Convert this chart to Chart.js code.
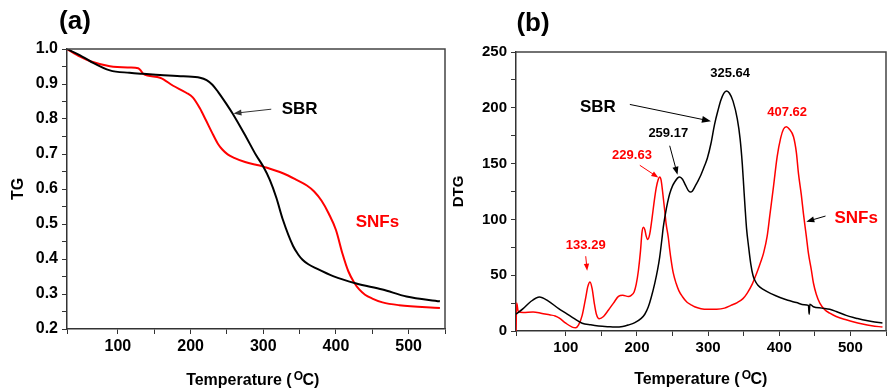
<!DOCTYPE html>
<html><head><meta charset="utf-8">
<script src="https://cdn.jsdelivr.net/npm/chart.js@4.4.1/dist/chart.umd.min.js"></script>
<style>
html,body{margin:0;padding:0;background:#fff;overflow:hidden}
#wrap{position:relative;width:889px;height:388px;background:#fff}
canvas{position:absolute;top:0}
</style></head><body>
<div id="wrap">
<canvas id="ca" width="450" height="388" style="left:0;width:450px;height:388px"></canvas>
<canvas id="cb" width="439" height="388" style="left:450px;width:439px;height:388px"></canvas>
</div>
<script>
// ---------- data (a) TG ----------
const sbrTgT = [30, 48, 62, 89, 116, 135, 158, 190, 213, 222, 230, 238, 249, 258, 276, 290, 300, 309, 318, 327, 341, 348, 354, 362, 373, 396, 428, 464, 497, 543];
const sbrTg  = [1.0, 0.982, 0.965, 0.939, 0.932, 0.929, 0.926, 0.922, 0.918, 0.911, 0.898, 0.877, 0.844, 0.815, 0.75, 0.697, 0.664, 0.626, 0.575, 0.512, 0.437, 0.413, 0.398, 0.385, 0.373, 0.351, 0.33, 0.313, 0.293, 0.279];
const snfTgT = [30, 48, 62, 89, 116, 128, 132, 135, 158, 176, 194, 203, 213, 221, 231, 238, 244, 251, 260, 275, 295, 300, 327, 345, 360, 370, 380, 390, 400, 409, 417, 425, 432, 440, 450, 464, 487, 543];
const snfTg  = [1.0, 0.978, 0.965, 0.951, 0.947, 0.945, 0.937, 0.929, 0.918, 0.895, 0.875, 0.862, 0.83, 0.797, 0.755, 0.728, 0.712, 0.699, 0.689, 0.677, 0.667, 0.664, 0.645, 0.627, 0.61, 0.593, 0.567, 0.53, 0.483, 0.415, 0.365, 0.333, 0.313, 0.298, 0.287, 0.276, 0.268, 0.26];

// ---------- data (b) DTG ----------
const sbrDtgT = [30, 40, 50, 63, 75, 90, 100, 112, 123, 135, 146, 160, 169, 180, 188, 197, 206, 211, 216, 220, 225, 229, 232, 235, 237, 240, 243, 246, 250, 253, 257, 260, 264, 268, 272, 275, 278, 282, 285, 290, 295, 299, 304, 309, 314, 318, 322, 326, 330, 335, 341, 345, 348, 350, 352, 354, 357, 360, 363, 366, 370, 378, 390, 401, 412, 424, 435, 441, 442, 443, 448, 460, 471, 480, 494, 508, 517, 530, 545];
const sbrDtg  = [15, 20, 26, 30.5, 27, 20, 16, 11, 7, 5.5, 4.5, 3.8, 3.5, 4, 5.4, 7.5, 11.3, 15, 21.7, 30, 42.7, 55, 66.5, 82, 93, 105, 115, 123, 130, 133.5, 137, 138, 136, 131, 126, 124.5, 125.5, 130, 133.5, 140, 148, 155, 168, 185, 198, 207, 213, 215, 213, 206, 190, 172, 150, 130, 110, 92, 75, 60, 50, 45, 41, 37, 33, 30, 27.5, 25.5, 23.5, 23, 15, 24, 21.7, 20.5, 19.4, 17.5, 14, 11.5, 10, 8.5, 7.2];
const snfDtgT = [30, 31, 33, 40, 54, 65, 77, 85, 91, 100, 109, 114, 118, 123, 128, 131, 134, 137, 140, 143, 147, 153, 160, 167, 174, 180, 188, 192, 196, 199, 202, 205, 207, 209, 211, 213, 215, 218, 221, 224, 227, 230, 232, 234, 236, 239, 241, 244, 246, 248, 251, 255, 259, 264, 270, 276, 281, 290, 299, 312, 323, 332, 341, 349, 355, 362, 369, 374, 378, 383, 387, 392, 397, 402, 406, 410, 414, 420, 424, 427, 431, 434, 438, 441, 445, 448, 452, 457, 464, 471, 480, 494, 505, 517, 530, 545];
const snfDtg  = [0, 25, 18, 16.5, 17, 16, 14.5, 13.5, 11.5, 7, 3.5, 3, 5.5, 14, 30, 40, 44, 38, 25, 15, 11, 13, 18.8, 25, 31, 32, 31, 32, 35, 42, 54, 72, 88, 93, 91, 85, 82, 87, 100, 115, 128, 136, 138, 135, 125, 108, 96, 84, 73, 63.5, 52, 42.7, 36, 30.7, 26, 23.5, 21.7, 20, 19.4, 19.5, 20.5, 23, 25.5, 29, 34, 42, 53, 62, 70, 85, 105, 130, 156, 173, 181, 183, 181, 174, 160, 141, 122, 105, 85, 69.5, 55, 43, 33, 25, 19, 16, 13, 10, 8, 6.3, 4.8, 3.5];

// ---------- ticks ----------
const xTickLabels = [100, 200, 300, 400, 500];
const yTickLabelsA = [0.2, 0.3, 0.4, 0.5, 0.6, 0.7, 0.8, 0.9, 1.0];
const yTickLabelsB = [0, 50, 100, 150, 200, 250];

const FONT = '"Liberation Sans", Arial, Helvetica, sans-serif';
Chart.defaults.font.family = FONT;
Chart.defaults.color = '#000';
const RED = '#ff0000';

function pts(xs, ys){ return xs.map((x,i)=>({x:x, y:ys[i]})); }

function drawArrow(ctx, x1, y1, x2, y2, color, head){
  head = head || 8;
  const ang = Math.atan2(y2-y1, x2-x1);
  ctx.strokeStyle = color; ctx.fillStyle = color; ctx.lineWidth = 1;
  ctx.beginPath(); ctx.moveTo(x1,y1);
  ctx.lineTo(x2 - Math.cos(ang)*head*0.8, y2 - Math.sin(ang)*head*0.8); ctx.stroke();
  ctx.beginPath();
  ctx.moveTo(x2, y2);
  ctx.lineTo(x2 - head*Math.cos(ang) + head*0.38*Math.sin(ang), y2 - head*Math.sin(ang) - head*0.38*Math.cos(ang));
  ctx.lineTo(x2 - head*Math.cos(ang) - head*0.38*Math.sin(ang), y2 - head*Math.sin(ang) + head*0.38*Math.cos(ang));
  ctx.closePath(); ctx.fill();
}

function drawTempTitle(ctx, cx, baseY){
  const f1 = 'bold 16px ' + FONT, f2 = 'bold 12px ' + FONT;
  const t1 = 'Temperature (', t2 = 'O', t3 = 'C)';
  ctx.font = f1; const w1 = ctx.measureText(t1).width, w3 = ctx.measureText(t3).width;
  ctx.font = f2; const w2 = ctx.measureText(t2).width;
  const total = w1 + w2 + w3 + 2;
  let x = cx - total/2;
  ctx.fillStyle = '#000'; ctx.textAlign = 'left'; ctx.textBaseline = 'alphabetic';
  ctx.font = f1; ctx.fillText(t1, x, baseY); x += w1 + 2;
  ctx.font = f2; ctx.fillText(t2, x, baseY - 5); x += w2 - 0.5;
  ctx.font = f1; ctx.fillText(t3, x, baseY);
}

const deco = {
  id: 'deco',
  afterDraw(chart, args, o){
    const ctx = chart.ctx, a = chart.chartArea, xs = chart.scales.x, ys = chart.scales.y;
    ctx.save();
    ctx.strokeStyle = '#444'; ctx.lineWidth = 1.5;
    ctx.beginPath(); ctx.moveTo(a.left, a.top); ctx.lineTo(a.right, a.top); ctx.lineTo(a.right, a.bottom); ctx.stroke();
    ctx.fillStyle = '#000'; ctx.textAlign = 'center'; ctx.textBaseline = 'middle';
    ctx.font = 'bold 26px ' + FONT; ctx.fillText(o.panel, o.panelX, o.panelY);
    ctx.save(); ctx.translate(o.yTitleX, (a.top + a.bottom)/2); ctx.rotate(-Math.PI/2);
    ctx.font = o.yTitleFont; ctx.fillText(o.yTitle, 0, 0); ctx.restore();
    drawTempTitle(ctx, (a.left + a.right)/2 + (o.xTitleDx || 0), o.xTitleY);
    o.arrows.forEach(ar => drawArrow(ctx, xs.getPixelForValue(ar.from[0]), ys.getPixelForValue(ar.from[1]),
      xs.getPixelForValue(ar.to[0]), ys.getPixelForValue(ar.to[1]), ar.color, ar.head));
    ctx.textAlign = 'center'; ctx.textBaseline = 'middle';
    o.notes.forEach(n => { ctx.font = n.font; ctx.fillStyle = n.color;
      ctx.fillText(n.text, xs.getPixelForValue(n.x), ys.getPixelForValue(n.y)); });
    ctx.restore();
  }
};

function makeScales(opt){
  return {
    x: { type: 'linear', min: 30, max: 550,
      afterFit: s => { s.height = opt.xh; },
      ticks: { stepSize: 50, autoSkip: false, maxRotation: 0, padding: 3, color: '#000',
        font: { size: opt.tickSize, weight: 'bold' },
        callback: v => xTickLabels.includes(v) ? String(v) : '' },
      grid: { drawOnChartArea: false, drawTicks: true, tickLength: 5, color: '#333', lineWidth: 1 },
      border: { display: true, color: '#333', width: 1.5 } },
    y: { type: 'linear', min: opt.ymin, max: opt.ymax,
      afterFit: s => { s.width = opt.yw; },
      ticks: { stepSize: opt.ystep, autoSkip: false, padding: 4, color: '#000',
        font: { size: opt.tickSize, weight: 'bold' },
        callback: opt.ycb },
      grid: { drawOnChartArea: false, drawTicks: true, tickLength: 5, color: '#333', lineWidth: 1 },
      border: { display: true, color: '#333', width: 1.5 } }
  };
}

new Chart(document.getElementById('ca'), {
  type: 'line',
  data: { datasets: [
    { label: 'SBR', data: pts(sbrTgT, sbrTg), borderColor: '#000', borderWidth: 2, pointRadius: 0, cubicInterpolationMode: 'monotone', fill: false },
    { label: 'SNFs', data: pts(snfTgT, snfTg), borderColor: RED, borderWidth: 2, pointRadius: 0, cubicInterpolationMode: 'monotone', fill: false }
  ]},
  options: {
    responsive: false, animation: false, parsing: true,
    layout: { padding: { top: 49, right: 5, left: 0, bottom: 0 } },
    scales: makeScales({ xh: 59, yw: 67, tickSize: 16, ymin: 0.2, ymax: 1.0, ystep: 0.05,
      ycb: v => { const r = Math.round(v*100); return (r % 10 === 0) ? (r/100).toFixed(1) : ''; } }),
    plugins: { legend: { display: false }, tooltip: { enabled: false },
      deco: { panel: '(a)', panelX: 75, panelY: 22, yTitle: 'TG', yTitleX: 18.5, yTitleFont: 'bold 16px ' + FONT,
        xTitleY: 385, xTitleDx: -3,
        arrows: [ { from: [311, 0.828], to: [259, 0.816], color: '#333', head: 8 } ],
        notes: [ { text: 'SBR', x: 350, y: 0.827, color: '#000', font: 'bold 17px ' + FONT },
                 { text: 'SNFs', x: 457, y: 0.505, color: RED, font: 'bold 17px ' + FONT } ] } }
  },
  plugins: [deco]
});

new Chart(document.getElementById('cb'), {
  type: 'line',
  data: { datasets: [
    { label: 'SBR', data: pts(sbrDtgT, sbrDtg), borderColor: '#000', borderWidth: 1.5, pointRadius: 0, cubicInterpolationMode: 'monotone', fill: false },
    { label: 'SNFs', data: pts(snfDtgT, snfDtg), borderColor: RED, borderWidth: 1.5, pointRadius: 0, cubicInterpolationMode: 'monotone', fill: false }
  ]},
  options: {
    responsive: false, animation: false,
    layout: { padding: { top: 52, right: 1, left: 0, bottom: 0 } },
    scales: makeScales({ xh: 57, yw: 66, tickSize: 15, ymin: 0, ymax: 250, ystep: 25,
      ycb: v => yTickLabelsB.includes(v) ? String(v) : '' }),
    plugins: { legend: { display: false }, tooltip: { enabled: false },
      deco: { panel: '(b)', panelX: 83, panelY: 24, yTitle: 'DTG', yTitleX: 9, yTitleFont: 'bold 15px ' + FONT,
        xTitleY: 384,
        arrows: [ { from: [190, 203], to: [304, 188], color: '#000', head: 9 },
                  { from: [246, 166], to: [257, 140], color: '#000', head: 8 },
                  { from: [204, 148.5], to: [230, 137.5], color: RED, head: 7 },
                  { from: [128, 67], to: [130, 54], color: RED, head: 7 },
                  { from: [465, 103], to: [438, 98], color: '#000', head: 8 } ],
        notes: [ { text: '325.64', x: 331, y: 231, color: '#000', font: 'bold 13px ' + FONT },
                 { text: 'SBR', x: 145, y: 200, color: '#000', font: 'bold 17px ' + FONT },
                 { text: '407.62', x: 411, y: 196, color: RED, font: 'bold 13px ' + FONT },
                 { text: '259.17', x: 244, y: 177, color: '#000', font: 'bold 13px ' + FONT },
                 { text: '229.63', x: 193, y: 157, color: RED, font: 'bold 13px ' + FONT },
                 { text: '133.29', x: 128, y: 77, color: RED, font: 'bold 13px ' + FONT },
                 { text: 'SNFs', x: 508, y: 101, color: RED, font: 'bold 17px ' + FONT } ] } }
  },
  plugins: [deco]
});
</script>
</body></html>
